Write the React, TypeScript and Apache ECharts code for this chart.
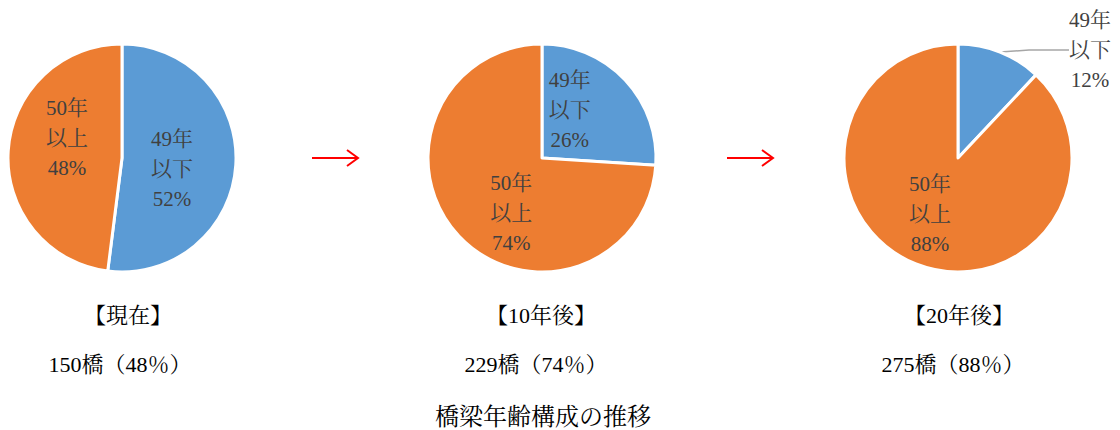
import React, { useEffect, useRef } from "react";
import * as echarts from "echarts";

const categories = ["49年以下", "50年以上"];
const labelNames = ["49年\n以下", "50年\n以上"];
const periods = ["【現在】", "【10年後】", "【20年後】"];
const youngShare = [52, 26, 12];
const oldShare = [48, 74, 88];
const bridgeCounts = [150, 229, 275];
const oldPct = [48, 74, 88];
const chartTitle = "橋梁年齢構成の推移";

const COLORS = ["#5B9BD5", "#ED7D31"];
const FONT = "'Liberation Serif', 'Noto Serif CJK JP', 'Noto Sans CJK JP', serif";
const centersX = [122, 542, 958];
const headerX = [128, 541, 959];
const countX = [120, 536, 953];
const centerY = 158;
const R = 114;

// per-pie label offsets [young, old]
const labelAdjust: any[][] = [
  [{ dx: -10, dy: 7 }, { dx: 5, dy: -16 }],
  [{ dx: -16, dy: -7 }, { dx: 13, dy: 14 }],
  [{ abs: true, x: 1090, y: 50 }, { dx: -6, dy: 0 }],
];

export default function App() {
  const ref = useRef<HTMLDivElement>(null);
  useEffect(() => {
    document.body.style.margin = "0";
    const chart = echarts.init(ref.current!, null, { renderer: "svg" });
    const series: any[] = periods.map((p, i) => ({
      type: "pie",
      name: p,
      center: [centersX[i], centerY],
      radius: [0, R],
      startAngle: 90,
      clockwise: true,
      animation: false,
      silent: true,
      itemStyle: { borderColor: "#fff", borderWidth: 3 },
      label: {
        show: true,
        position: "inside",
        fontFamily: FONT,
        fontSize: 21,
        lineHeight: 30,
        color: "#404040",
        formatter: (pr: any) => `${labelNames[pr.dataIndex]}\n${pr.value}%`,
      },
      labelLine: { show: false },
      labelLayout: (pr: any) => {
        const a = labelAdjust[i][pr.dataIndex];
        if (a.abs) return { x: a.x, y: a.y, align: "center", verticalAlign: "middle" };
        return { dx: a.dx, dy: a.dy };
      },
      data: categories.map((c, k) => {
        const item: any = {
          name: c,
          value: k === 0 ? youngShare[i] : oldShare[i],
          itemStyle: { color: COLORS[k] },
        };
        if (i === 2 && k === 0) {
          item.label = { position: "outside" };
          item.labelLine = {
            show: true,
            length: 20,
            length2: 40,
            smooth: false,
            lineStyle: { color: "#a6a6a6", width: 1.5 },
          };
        }
        return item;
      }),
    }));

    const graphic: any[] = [];
    periods.forEach((p, i) => {
      graphic.push({
        type: "text",
        x: headerX[i],
        y: 315,
        style: { text: p, font: `22px ${FONT}`, fill: "#000", align: "center", verticalAlign: "middle" },
      });
      graphic.push({
        type: "text",
        x: countX[i],
        y: 364,
        style: {
          text: `${bridgeCounts[i]}橋（${oldPct[i]}％）`,
          font: `22px ${FONT}`,
          fill: "#000",
          align: "center",
          verticalAlign: "middle",
        },
      });
    });
    graphic.push({
      type: "text",
      x: 543,
      y: 417,
      style: { text: chartTitle, font: `24px ${FONT}`, fill: "#000", align: "center", verticalAlign: "middle" },
    });
    [312, 727].forEach((x0) => {
      graphic.push({
        type: "line",
        shape: { x1: x0, y1: 158, x2: x0 + 45, y2: 158 },
        style: { stroke: "#ff0000", lineWidth: 2 },
      });
      graphic.push({
        type: "polyline",
        shape: { points: [[x0 + 35, 150], [x0 + 46, 158], [x0 + 35, 166]] },
        style: { stroke: "#ff0000", lineWidth: 2, fill: "none" },
      });
    });

    chart.setOption({ animation: false, series, graphic });
    return () => chart.dispose();
  }, []);
  return <div ref={ref} style={{ width: 1120, height: 430 }} />;
}
